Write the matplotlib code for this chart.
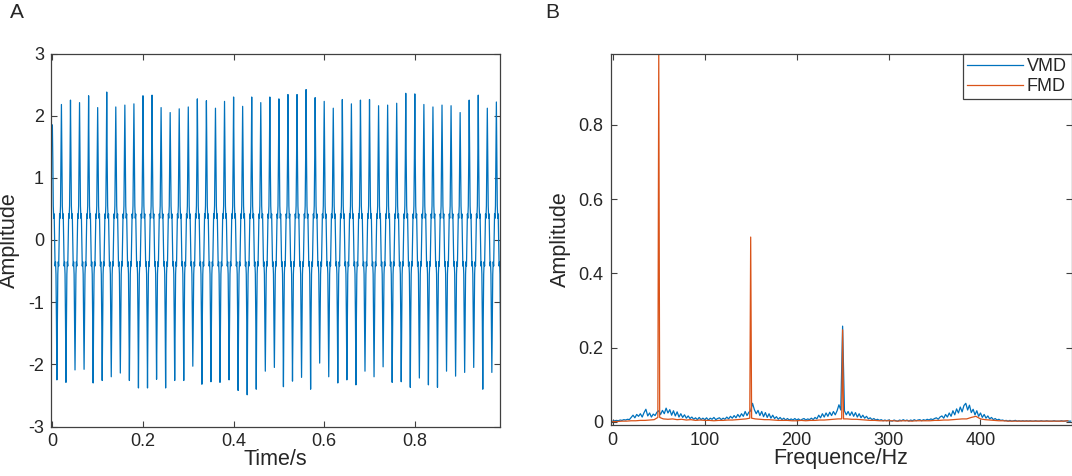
import numpy as np
import matplotlib
matplotlib.use("Agg")
import matplotlib.pyplot as plt

plt.rcParams['font.family'] = ['Liberation Sans', 'DejaVu Sans']
plt.rcParams['axes.unicode_minus'] = False

# ---------------- Panel A data (time signal) ----------------
fs = 1000                      # samples per second
samples_per_cycle = 20         # 50 Hz fundamental
# one-cycle waveform shape (peak / trough replaced per cycle)
cycle_shape = [2.2, 1.3, 0.55, 0.35, 0.42, 0.0, -0.42, -0.35, -0.55, -1.3,
               -2.25, -1.3, -0.55, -0.35, -0.42, 0.0, 0.42, 0.35, 0.55, 1.3]
cycle_peaks = [1.85, 2.18, 2.25, 2.21, 2.32, 2.13, 2.38, 2.14, 2.17, 2.19,
               2.32, 2.33, 2.13, 2.05, 2.11, 2.14, 2.27, 2.24, 2.12, 2.23,
               2.30, 2.15, 2.30, 2.21, 2.30, 2.27, 2.34, 2.34,
               2.42, 2.29, 2.23, 2.12, 2.26, 2.19, 2.25, 2.26, 2.16, 2.17,
               2.20, 2.36, 2.35, 2.18, 2.14, 2.17, 2.16, 2.05, 2.25, 2.33,
               2.12, 2.22]
cycle_troughs = [-2.25, -2.29, -2.09, -2.08, -2.30, -2.26, -2.20, -2.14, -2.26, -2.38,
                 -2.38, -2.24, -2.38, -2.26, -2.26, -2.03, -2.32, -2.28, -2.29, -2.25,
                 -2.42, -2.49, -2.40, -2.11, -2.05, -2.36, -2.27,
                 -2.21, -2.40, -1.98, -2.20, -2.30, -2.25, -2.33, -2.11, -2.20, -2.04,
                 -2.29, -2.28, -2.37, -2.22, -2.33, -2.37, -2.11, -2.19, -2.13, -2.05,
                 -2.40, -2.13, -2.12]

# ---------------- Panel B data (spectra) ----------------
vmd_step = 2  # Hz
vmd_amp = [
    0.002, 0.003, 0.004, 0.003, 0.005, 0.004, 0.006, 0.005, 0.007, 0.006,
    0.012, 0.018, 0.011, 0.020, 0.015, 0.022, 0.013, 0.025, 0.034, 0.016,
    0.024, 0.013, 0.021, 0.017, 0.026,
    0.030, 0.020, 0.031, 0.022, 0.037, 0.024, 0.033, 0.018, 0.030, 0.016,
    0.027, 0.013, 0.022, 0.012, 0.019, 0.010, 0.016, 0.009, 0.013, 0.007,
    0.011, 0.006, 0.012, 0.006, 0.010,
    0.006, 0.011, 0.005, 0.010, 0.007, 0.012, 0.006, 0.009, 0.011, 0.006,
    0.010, 0.007, 0.013, 0.008, 0.015, 0.010, 0.017, 0.011, 0.020, 0.013,
    0.022, 0.015, 0.028, 0.017, 0.026,
    0.030, 0.050, 0.033, 0.022, 0.031, 0.017, 0.028, 0.014, 0.025, 0.012,
    0.022, 0.010, 0.018, 0.009, 0.014, 0.007, 0.012, 0.006, 0.010, 0.005,
    0.009, 0.005, 0.008, 0.005, 0.009,
    0.005, 0.008, 0.004, 0.007, 0.009, 0.005, 0.008, 0.006, 0.010, 0.006,
    0.012, 0.008, 0.018, 0.011, 0.022, 0.013, 0.024, 0.015, 0.026, 0.017,
    0.028, 0.019, 0.030, 0.046, 0.032,
    0.258, 0.030, 0.019, 0.028, 0.017, 0.027, 0.015, 0.025, 0.013, 0.022,
    0.011, 0.018, 0.010, 0.015, 0.008, 0.011, 0.006, 0.009, 0.005, 0.007,
    0.004, 0.006, 0.003, 0.005, 0.003,
    0.005, 0.003, 0.002, 0.005, 0.003, 0.002, 0.005, 0.003, 0.006, 0.003,
    0.005, 0.002, 0.005, 0.003, 0.006, 0.003, 0.005, 0.006, 0.003, 0.006,
    0.004, 0.007, 0.005, 0.008, 0.006,
    0.009, 0.011, 0.007, 0.013, 0.016, 0.010, 0.020, 0.013, 0.024, 0.015,
    0.030, 0.019, 0.035, 0.024, 0.040, 0.027, 0.044, 0.050, 0.032, 0.045,
    0.025, 0.034, 0.019, 0.030, 0.015,
    0.024, 0.012, 0.020, 0.010, 0.016, 0.008, 0.012, 0.006, 0.009, 0.005,
    0.007, 0.004, 0.005, 0.003, 0.004, 0.002, 0.004, 0.002, 0.003, 0.004,
    0.002, 0.003, 0.002, 0.003, 0.002,
    0.003, 0.002, 0.003, 0.002, 0.002, 0.003, 0.002, 0.002, 0.003, 0.002,
    0.002, 0.003, 0.002, 0.002, 0.002, 0.003, 0.002, 0.002, 0.002, 0.003,
    0.002, 0.002, 0.003, 0.002, 0.002,
]

fmd_step = 5  # Hz
fmd_base_amp = [
    0.001, 0.001, 0.002, 0.002, 0.003, 0.003, 0.004, 0.004, 0.005, 0.006,
    1.000, 0.008, 0.007, 0.008, 0.006, 0.007, 0.005, 0.006, 0.004, 0.005,
    0.004, 0.004, 0.003, 0.004, 0.004, 0.005, 0.005, 0.006, 0.007, 0.008,
    0.498, 0.008, 0.007, 0.006, 0.006, 0.005, 0.004, 0.004, 0.004, 0.003,
    0.003, 0.004, 0.003, 0.004, 0.004, 0.005, 0.005, 0.006, 0.007, 0.008,
    0.248, 0.008, 0.007, 0.007, 0.006, 0.005, 0.004, 0.004, 0.003, 0.003,
    0.003, 0.003, 0.002, 0.003, 0.003, 0.002, 0.003, 0.003, 0.003, 0.003,
    0.004, 0.004, 0.005, 0.005, 0.006, 0.007, 0.008, 0.008, 0.012, 0.015,
    0.008, 0.006, 0.005, 0.004, 0.003, 0.003, 0.002, 0.002, 0.002, 0.002,
    0.002, 0.002, 0.002, 0.002, 0.002, 0.002, 0.002, 0.002, 0.002, 0.003,
]
fmd_side_freq = [49, 51, 149, 151, 249, 251]
fmd_side_amp = [0.012, 0.012, 0.010, 0.010, 0.008, 0.008]

# ---------------- build series ----------------
signal = []
for pk, tr in zip(cycle_peaks, cycle_troughs):
    c = list(cycle_shape)
    c[0] = pk
    c[10] = tr
    signal.extend(c)
signal = np.array(signal)
t = np.arange(len(signal)) / fs

vmd_freq = np.arange(len(vmd_amp)) * vmd_step
fmd_freq = np.concatenate([np.arange(len(fmd_base_amp)) * fmd_step, fmd_side_freq])
fmd_amp = np.concatenate([fmd_base_amp, fmd_side_amp])
order = np.argsort(fmd_freq, kind='stable')
fmd_freq = fmd_freq[order]
fmd_amp = fmd_amp[order]

# ---------------- plotting ----------------
blue = '#0072BD'
orange = '#D95319'
axc = '#404040'
txt = '#262626'

fig = plt.figure(figsize=(10.72, 4.76), dpi=100)
W, H = 1072, 476

def axes_px(l, t_, r, b):
    return fig.add_axes([l / W, 1 - b / H, (r - l) / W, (b - t_) / H])

def style(ax):
    for s in ax.spines.values():
        s.set_color(axc)
        s.set_linewidth(0.9)
    ax.tick_params(direction='in', length=4, width=0.8, colors=axc,
                   top=True, right=True, labelsize=13, labelcolor=txt, pad=5)

axA = axes_px(51, 53.5, 500, 426.5)
axA.plot(t, signal, color=blue, lw=0.9)
axA.set_xlim(-0.003, 0.988)
axA.set_ylim(-3, 3)
axA.set_xticks([0, 0.2, 0.4, 0.6, 0.8])
axA.set_xticklabels(['0', '0.2', '0.4', '0.6', '0.8'])
axA.set_yticks([-3, -2, -1, 0, 1, 2, 3])
axA.set_xlabel('Time/s', fontsize=15.5, labelpad=-1, color=txt)
axA.set_ylabel('Amplitude', fontsize=15.5, color=txt)
axA.yaxis.set_label_coords((20 - 51) / 449, 0.5)
style(axA)

axB = axes_px(610.5, 53.7, 1071.5, 425)
axB.plot(vmd_freq, vmd_amp, color=blue, lw=0.9, label='VMD')
axB.plot(fmd_freq, fmd_amp, color=orange, lw=0.9, label='FMD')
axB.set_xlim(-2.5, 499)
axB.set_ylim(-0.0084, 0.992)
axB.set_xticks([0, 100, 200, 300, 400])
axB.set_yticks([0, 0.2, 0.4, 0.6, 0.8])
axB.set_yticklabels(['0', '0.2', '0.4', '0.6', '0.8'])
axB.set_xlabel('Frequence/Hz', fontsize=15.5, labelpad=-1, color=txt)
axB.set_ylabel('Amplitude', fontsize=15.5, color=txt)
axB.yaxis.set_label_coords((571 - 610.5) / 461, 0.5)
style(axB)
leg = axB.legend(loc='upper right', bbox_to_anchor=(1, 1), borderaxespad=0,
                 fancybox=False, fontsize=13, handlelength=3.1, handletextpad=0.2,
                 borderpad=0.25, labelspacing=0.15, framealpha=1)
leg.get_frame().set_edgecolor(axc)
leg.get_frame().set_linewidth(0.9)
for tx in leg.get_texts():
    tx.set_color(txt)

fig.text(10 / W, 1 - 18.3 / H, 'A', fontsize=15, va='baseline', ha='left', color=txt)
fig.text(545 / W, 1 - 18.3 / H, 'B', fontsize=15, va='baseline', ha='left', color=txt)

fig.savefig('out.png', dpi=100)
